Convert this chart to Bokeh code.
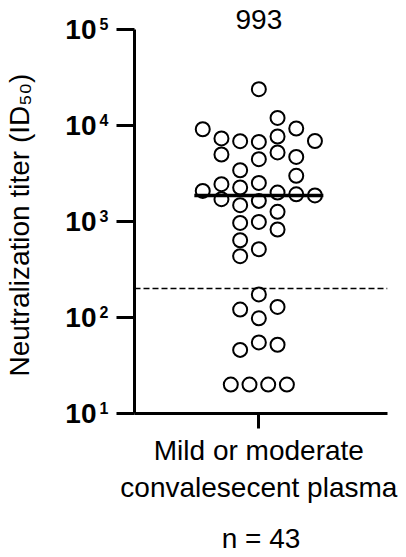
import numpy as np
from bokeh.plotting import figure
from bokeh.models import (FixedTicker, Span, Label, Range1d, LogAxis,
                          LogScale)
from bokeh.embed import file_html
from bokeh.resources import INLINE

# ---- data ----
titers = [23900, 12000, 9140, 9310, 7330, 6860, 6750, 7680, 6900,
          4990, 4460, 5240, 4710, 3420, 2990,
          2450, 2260, 2520, 2080, 2000, 1920, 1870,
          1710, 1480, 1640, 1260,
          966, 990, 826, 638, 514, 435,
          174, 121, 129, 98, 46, 55, 52,
          20, 20, 20, 20]
# swarm column (in units of one marker spacing) of each point
swarm_slot = [0, 1, -3, 2, -2, -1, 0, 1, 3,
              -2, 0, 1, 2, -1, 2,
              -2, -1, 0, -3, 1, 2, 3,
              -2, -1, 0, 1,
              -1, 0, 1, -1, 0, -1,
              0, -1, 1, 0, -1, 0, 1,
              -1.5, -0.5, 0.5, 1.5]
threshold = 200
top_label = "993"
category_label = "Mild or moderate\nconvalesecent plasma"
n_label = "n = 43"
y_ticks = [10, 100, 1000, 10000, 100000]
y_tick_base = "10"
y_tick_exponents = ["1", "2", "3", "4", "5"]
y_title = "Neutralization titer (ID\u2085\u2080)"

FONT = "Liberation Sans"
FS = "28px"

median = float(np.median(titers))

X0, X1 = -6.65, 6.88
Y_TOP = 10 ** 5.25          # headroom above 10^5 for the "993" label
EXP_SHIFT = 10 ** 0.057     # raises the exponents above the tick centre

p = figure(width=406, height=557, output_backend="svg", toolbar_location=None,
           y_axis_type="log", x_range=Range1d(X0, X1),
           y_range=Range1d(y_ticks[0], Y_TOP),
           min_border_left=134, min_border_right=19,
           min_border_top=5, min_border_bottom=144)
p.outline_line_color = None
p.grid.visible = False
p.extra_y_ranges = {"exp": Range1d(y_ticks[0] / EXP_SHIFT, Y_TOP / EXP_SHIFT)}
p.extra_y_scales = {"exp": LogScale()}

# inner y axis: line and ticks only
ya = p.yaxis[0]
ya.bounds = (y_ticks[0], y_ticks[-1])
ya.ticker = FixedTicker(ticks=y_ticks, minor_ticks=[])
ya.major_label_overrides = {t: "" for t in y_ticks}
ya.major_label_standoff = 0
ya.major_tick_out = 18
ya.major_tick_in = 0
ya.major_tick_line_width = 3
ya.axis_line_width = 3

# exponents of the tick labels
ye = LogAxis(y_range_name="exp", ticker=FixedTicker(ticks=y_ticks, minor_ticks=[]))
ye.major_label_overrides = {t: e for t, e in zip(y_ticks, y_tick_exponents)}
ye.major_label_text_font = FONT
ye.major_label_text_font_size = "16px"
ye.major_label_text_font_style = "bold"
ye.major_label_text_color = "black"
ye.major_label_standoff = 8
ye.major_tick_out = 0
ye.major_tick_in = 0
ye.major_tick_line_color = None
ye.minor_tick_line_color = None
ye.axis_line_color = None
p.add_layout(ye, "left")

# base "10" of the tick labels, and the y title
yb = LogAxis(ticker=FixedTicker(ticks=y_ticks, minor_ticks=[]))
yb.major_label_overrides = {t: y_tick_base for t in y_ticks}
yb.major_label_text_font = FONT
yb.major_label_text_font_size = FS
yb.major_label_text_font_style = "bold"
yb.major_label_text_color = "black"
yb.major_label_standoff = 0
yb.major_tick_out = 0
yb.major_tick_in = 0
yb.major_tick_line_color = None
yb.minor_tick_line_color = None
yb.axis_line_color = None
# trailing no-break spaces centre the title on the 10^1..10^5 span
yb.axis_label = y_title + "\u00a0" * 4
yb.axis_label_text_font = FONT
yb.axis_label_text_font_size = FS
yb.axis_label_text_font_style = "normal"
yb.axis_label_text_color = "black"
yb.axis_label_standoff = 27
p.add_layout(yb, "left")

# x axis
xa = p.xaxis[0]
xa.ticker = FixedTicker(ticks=[0], minor_ticks=[])
xa.major_label_overrides = {0: category_label}
xa.major_label_text_font = FONT
xa.major_label_text_font_size = FS
xa.major_label_text_color = "black"
xa.major_label_standoff = 6
xa.major_tick_out = 15
xa.major_tick_in = 0
xa.major_tick_line_width = 3
xa.axis_line_width = 3
xa.axis_label = n_label
xa.axis_label_text_font = FONT
xa.axis_label_text_font_size = FS
xa.axis_label_text_font_style = "normal"
xa.axis_label_text_color = "black"
xa.axis_label_standoff = 17

# threshold dashed line
p.add_layout(Span(location=threshold, dimension="width", line_color="black",
                  line_width=1.5, line_dash="6 3"))

# points
p.scatter(x=swarm_slot, y=titers, marker="circle", size=14,
          fill_color="white", line_color="black", line_width=2)

# median line
p.segment(x0=[-3.45], x1=[3.45], y0=[median], y1=[median],
          line_color="black", line_width=3.5)

# label above the column
p.add_layout(Label(x=0, y=y_ticks[-1], y_offset=10, text=top_label,
                   text_align="center", text_baseline="middle",
                   text_font=FONT, text_font_size=FS, text_color="black"))

open("out.html", "w").write(file_html(p, INLINE))
